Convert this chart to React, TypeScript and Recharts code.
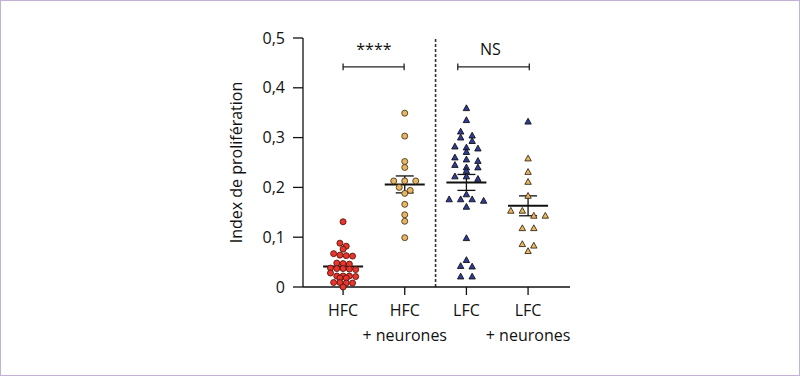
import {
  ReferenceDot,
  ReferenceLine,
  Scatter,
  ScatterChart,
  XAxis,
  YAxis,
} from 'recharts';

// Proliferation index per group (one value per cell).
const categoryLabels = [
  ['HFC'],
  ['HFC', '+ neurones'],
  ['LFC'],
  ['LFC', '+ neurones'],
];
const categoryTicks = [1, 2, 3, 4];
const yTicks = [0, 0.1, 0.2, 0.3, 0.4, 0.5];

const hfc = [
  0.131, 0.088, 0.082, 0.076, 0.067, 0.064, 0.063, 0.062, 0.048, 0.047, 0.046,
  0.038, 0.037, 0.037, 0.036, 0.035, 0.028, 0.022, 0.022, 0.022, 0.021, 0.018,
  0.018, 0.009, 0.009, 0.008, 0.008, 0.0,
];
const hfcNeurones = [
  0.349, 0.303, 0.252, 0.24, 0.213, 0.213, 0.213, 0.2, 0.194, 0.188, 0.166,
  0.145, 0.132, 0.099,
];
const lfc = [
  0.359, 0.335, 0.312, 0.304, 0.3, 0.293, 0.282, 0.28, 0.278, 0.271, 0.26,
  0.256, 0.253, 0.245, 0.24, 0.24, 0.233, 0.222, 0.222, 0.217, 0.186, 0.176,
  0.176, 0.176, 0.173, 0.161, 0.098, 0.054, 0.042, 0.041, 0.021, 0.021,
];
const lfcNeurones = [
  0.258, 0.231, 0.211, 0.183, 0.153, 0.153, 0.143, 0.143, 0.118, 0.118, 0.086,
  0.083, 0.072,
];
// the top cell of the last group is drawn in the LFC colour in the figure
const lfcNeuronesBlue = [0.332];

const means = [0.041, 0.206, 0.21, 0.163];
const sems = [0.005, 0.017, 0.016, 0.02];

const X_DOMAIN: [number, number] = [0.35, 4.68];
const PLOT_W = 267;
const PX = PLOT_W / (X_DOMAIN[1] - X_DOMAIN[0]);

// Prism-like scatter: values close together share a row and are spread
// symmetrically around the category centre.
function swarm(values: number[], center: number, bin: number, stepPx: number) {
  const sorted = [...values].sort((a, b) => b - a);
  const rows: number[][] = [];
  let cur: number[] = [];
  for (const v of sorted) {
    if (cur.length && cur[0] - v >= bin) {
      rows.push(cur);
      cur = [];
    }
    cur.push(v);
  }
  if (cur.length) rows.push(cur);
  const pts: { x: number; y: number }[] = [];
  rows.forEach((row) =>
    row.forEach((v, i) =>
      pts.push({ x: center + ((i - (row.length - 1) / 2) * stepPx) / PX, y: v }),
    ),
  );
  return pts;
}

const INK = '#111';
const FONT = '"Open Sans", "Noto Sans", sans-serif';
const FS = 16;

const dot = (fill: string, stroke: string) => (p: any) => (
  <circle cx={p.cx} cy={p.cy} r={3} fill={fill} stroke={stroke} strokeWidth={0.9} />
);
const tri = (fill: string, stroke: string) => (p: any) => (
  <polygon
    points={`${p.cx},${p.cy - 3.4} ${p.cx + 3.2},${p.cy + 2.4} ${p.cx - 3.2},${p.cy + 2.4}`}
    fill={fill}
    stroke={stroke}
    strokeWidth={0.9}
    strokeLinejoin='round'
  />
);

function CategoryTick(props: any) {
  const { x, y, payload } = props;
  const lines = categoryLabels[categoryTicks.indexOf(payload.value)] ?? [];
  return (
    <g transform={`translate(${x},${y})`}>
      {lines.map((t, i) => (
        <text key={i} x={0} y={19 + i * 25} textAnchor='middle' fill={INK} fontSize={FS}>
          {t}
        </text>
      ))}
    </g>
  );
}

const fmt = (v: number) => (v === 0 ? '0' : v.toFixed(1).replace('.', ','));

export default function App() {
  const meanHalf = 20 / PX;
  const capHalf = 9 / PX;
  return (
    <div style={{ position: 'absolute', left: 0, top: 0, width: 800, height: 376, background: '#fff' }}>
      <ScatterChart
        width={800}
        height={376}
        margin={{ top: 38, right: 230, bottom: 29, left: 233 }}
        style={{ fontFamily: FONT }}
      >
        <XAxis
          type='number'
          dataKey='x'
          domain={X_DOMAIN}
          ticks={categoryTicks}
          tick={<CategoryTick />}
          tickSize={8}
          height={60}
          axisLine={{ stroke: INK, strokeWidth: 1.3 }}
          tickLine={{ stroke: INK, strokeWidth: 1.3 }}
          allowDataOverflow
        />
        <YAxis
          type='number'
          dataKey='y'
          domain={[0, 0.5]}
          ticks={yTicks}
          tickFormatter={fmt}
          tickSize={10}
          tickMargin={8}
          width={70}
          tick={{ fill: INK, fontSize: FS }}
          axisLine={{ stroke: INK, strokeWidth: 1.3 }}
          tickLine={{ stroke: INK, strokeWidth: 1.3 }}
          label={{
            value: 'Index de prolifération',
            angle: -90,
            position: 'insideLeft',
            offset: 3,
            style: { textAnchor: 'middle', fill: INK, fontSize: FS },
          }}
        />
        <ReferenceLine x={2.5} stroke='#333' strokeWidth={1.6} strokeDasharray='3 2' />

        <Scatter data={swarm(hfc, 1, 0.007, 6.3)} shape={dot('#e8362c', '#5a1410')} isAnimationActive={false} />
        <Scatter data={swarm(hfcNeurones, 2, 0.008, 11)} shape={dot('#e6b566', '#4f3a18')} isAnimationActive={false} />
        <Scatter data={swarm(lfc, 3, 0.01, 11.5)} shape={tri('#2f3c9c', '#111')} isAnimationActive={false} />
        <Scatter data={swarm(lfcNeurones, 4, 0.011, 11.5)} shape={tri('#e8b868', '#3a2a10')} isAnimationActive={false} />
        <Scatter data={swarm(lfcNeuronesBlue, 4, 0.01, 11.5)} shape={tri('#2f3c9c', '#111')} isAnimationActive={false} />

        {means.map((m, i) => {
          const c = categoryTicks[i];
          return (
            <ReferenceLine
              key={`m${i}`}
              segment={[{ x: c - meanHalf, y: m }, { x: c + meanHalf, y: m }]}
              stroke='#111'
              strokeWidth={2}
            />
          );
        })}
        {means.map((m, i) => {
          const c = categoryTicks[i];
          return (
            <ReferenceLine
              key={`s${i}`}
              segment={[{ x: c, y: m - sems[i] }, { x: c, y: m + sems[i] }]}
              stroke='#111'
              strokeWidth={1.3}
            />
          );
        })}
        {means.flatMap((m, i) => {
          const c = categoryTicks[i];
          return [m - sems[i], m + sems[i]].map((v, j) => (
            <ReferenceLine
              key={`c${i}${j}`}
              segment={[{ x: c - capHalf, y: v }, { x: c + capHalf, y: v }]}
              stroke='#111'
              strokeWidth={1.3}
            />
          ));
        })}

        {/* significance brackets */}
        <ReferenceLine segment={[{ x: 1.0, y: 0.442 }, { x: 1.99, y: 0.442 }]} stroke='#222' strokeWidth={1.3} />
        <ReferenceLine segment={[{ x: 1.0, y: 0.435 }, { x: 1.0, y: 0.449 }]} stroke='#222' strokeWidth={1.3} />
        <ReferenceLine segment={[{ x: 1.99, y: 0.435 }, { x: 1.99, y: 0.449 }]} stroke='#222' strokeWidth={1.3} />
        <ReferenceLine segment={[{ x: 2.86, y: 0.442 }, { x: 4.02, y: 0.442 }]} stroke='#222' strokeWidth={1.3} />
        <ReferenceLine segment={[{ x: 2.86, y: 0.435 }, { x: 2.86, y: 0.449 }]} stroke='#222' strokeWidth={1.3} />
        <ReferenceLine segment={[{ x: 4.02, y: 0.435 }, { x: 4.02, y: 0.449 }]} stroke='#222' strokeWidth={1.3} />
        <ReferenceDot
          x={1.5}
          y={0.478}
          r={0}
          fill='none'
          stroke='none'
          label={{ value: '****', position: 'center', fill: INK, fontSize: FS }}
        />
        <ReferenceDot
          x={3.39}
          y={0.478}
          r={0}
          fill='none'
          stroke='none'
          label={{ value: 'NS', position: 'center', fill: INK, fontSize: FS }}
        />
      </ScatterChart>
      <div
        style={{
          position: 'absolute',
          inset: 0,
          border: '1px solid #c3b2d8',
          pointerEvents: 'none',
        }}
      />
    </div>
  );
}
